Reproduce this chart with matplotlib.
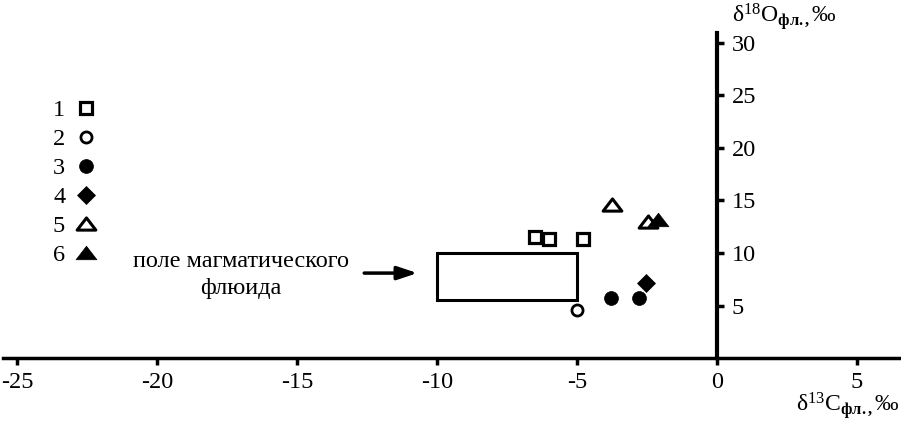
import matplotlib
matplotlib.use("Agg")
import matplotlib.pyplot as plt
from matplotlib.lines import Line2D
from matplotlib.patches import Rectangle
from matplotlib.path import Path

plt.rcParams['font.family'] = ['Liberation Serif', 'DejaVu Serif']
plt.rcParams['mathtext.fontset'] = 'custom'
plt.rcParams['mathtext.rm'] = 'Liberation Serif'
plt.rcParams['mathtext.it'] = 'Liberation Serif:italic'
plt.rcParams['mathtext.bf'] = 'Liberation Serif:bold'
plt.rcParams['axes.unicode_minus'] = False

# ---- data ----
sq_x = [-6.5, -6.0, -4.8]          # 1 open squares
sq_y = [11.5, 11.3, 11.3]
oc_x = [-5.0]                      # 2 open circle
oc_y = [4.6]
fc_x = [-3.8, -2.8]                # 3 filled circles
fc_y = [5.7, 5.7]
dm_x = [-2.55]                     # 4 filled diamond
dm_y = [7.2]
ot_x = [-3.75, -2.45]              # 5 open triangles
ot_y = [14.6, 13.0]
ft_x = [-2.1]                      # 6 filled triangle
ft_y = [13.1]

field_x = [-10.0, -5.0]            # magmatic fluid field
field_y = [5.5, 10.0]
arrow_x = [-12.6, -10.7]
arrow_y = 8.1
field_label = "поле магматического\nфлюида"
field_label_xy = (-17.0, 7.9)

xticks = [-25, -20, -15, -10, -5, 0, 5]
xticklabels = ["-25", "-20", "-15", "-10", "-5", "0", "5"]
yticks = [5, 10, 15, 20, 25, 30]
yticklabels = ["5", "10", "15", "20", "25", "30"]
legend_labels = ["1", "2", "3", "4", "5", "6"]

FS = 17.5
tri = Path([(-1, -0.6), (1, -0.6), (0, 0.7), (-1, -0.6)],
           [Path.MOVETO, Path.LINETO, Path.LINETO, Path.CLOSEPOLY])

fig = plt.figure(figsize=(9.01, 4.21), dpi=100)
ax = fig.add_axes([3/901, 62.7/421, 898/901, 325.6/421])
ax.set_xlim(-25.5, 6.571)
ax.set_ylim(0, 30.95)

styles = [
    dict(marker='s', ms=8.5, mfc='white', mec='black', mew=2.3),
    dict(marker='o', ms=8, mfc='white', mec='black', mew=2.0),
    dict(marker='o', ms=10, mfc='black', mec='black', mew=0.5),
    dict(marker='D', ms=9, mfc='black', mec='black', mew=0.5),
    dict(marker=tri, ms=13.5, mfc='white', mec='black', mew=2.2),
    dict(marker=tri, ms=15, mfc='black', mec='black', mew=0.5),
]
series = [(sq_x, sq_y), (oc_x, oc_y), (fc_x, fc_y), (dm_x, dm_y), (ot_x, ot_y), (ft_x, ft_y)]

ax.add_patch(Rectangle((field_x[0], field_y[0]), field_x[1] - field_x[0], field_y[1] - field_y[0],
                       fill=False, ec='black', lw=2.2, zorder=2))

handles = []
for (xs, ys), st in zip(series, styles):
    ax.plot(xs, ys, ls='none', zorder=3, **st)
    handles.append(Line2D([], [], ls='none', **st))

ax.annotate("", xy=(arrow_x[1], arrow_y), xytext=(arrow_x[0], arrow_y),
            arrowprops=dict(arrowstyle='-|>,head_length=0.6,head_width=0.2',
                            lw=2.5, color='black', mutation_scale=20,
                            shrinkA=0, shrinkB=0))
ax.text(field_label_xy[0], field_label_xy[1], field_label, ha='center', va='center',
        multialignment='center', fontsize=FS, linespacing=1.4)

# spines
for s in ['top', 'left']:
    ax.spines[s].set_visible(False)
ax.spines['right'].set_position(('data', 0))
ax.spines['bottom'].set_position(('data', 0))
ax.spines['right'].set_linewidth(3)
ax.spines['bottom'].set_linewidth(2.5)

ax.yaxis.tick_right()
ax.set_xticks(xticks)
ax.set_xticklabels(xticklabels)
ax.set_yticks(yticks)
ax.set_yticklabels(yticklabels)
ax.tick_params(axis='x', direction='out', length=5, width=2.5, labelsize=FS, pad=5)
ax.tick_params(axis='y', direction='out', length=5, width=2.5, labelsize=FS, pad=5.5)

ax.set_xlabel(r"δ$^{13}$C$_{\mathbf{фл.,}}$‰", fontsize=17, ha='right', va='baseline')
ax.xaxis.set_label_coords(0.9985, -0.163)
ax.set_ylabel(r"δ$^{18}$O$_{\mathbf{фл.,}}$‰", fontsize=17, rotation=0, ha='left', va='baseline')
ax.yaxis.set_label_coords(0.8118, 1.033)

ax.legend(handles, legend_labels, markerfirst=False, frameon=False, loc='upper left',
          bbox_to_anchor=(53/901, 1 - 99/421), bbox_transform=fig.transFigure,
          borderpad=0, borderaxespad=0, handlelength=1.0, handletextpad=0.35,
          labelspacing=0.29, fontsize=FS, numpoints=1)

fig.savefig("out.png", dpi=100)
